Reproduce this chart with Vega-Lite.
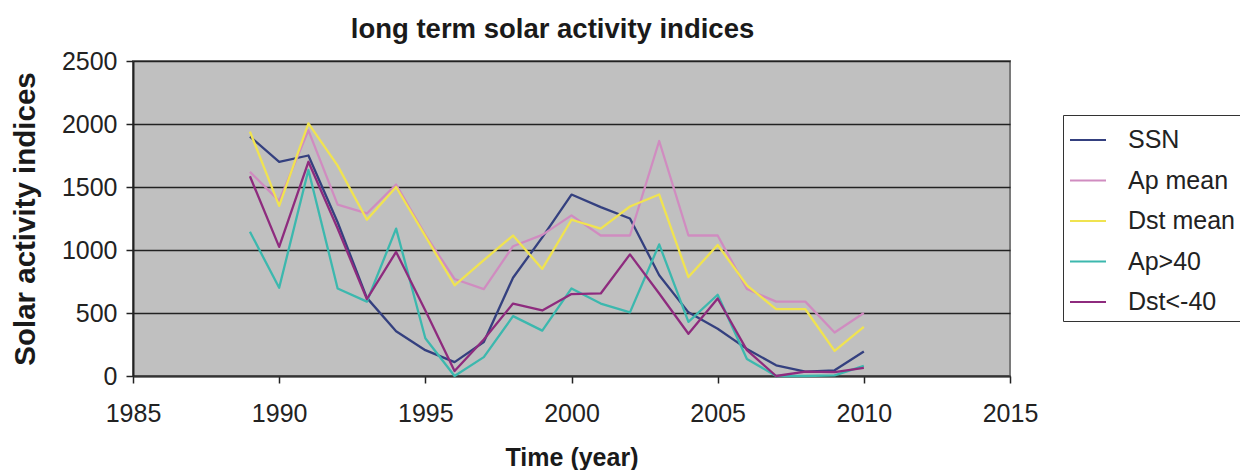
{
  "$schema": "https://vega.github.io/schema/vega-lite/v6.json",
  "width": 877,
  "height": 315,
  "autosize": {"type": "none"},
  "padding": {"left": 133, "top": 61, "right": 230, "bottom": 94},
  "background": "white",
  "title": {
    "text": "long term solar activity indices",
    "font": "Liberation Sans",
    "fontSize": 27.5,
    "fontWeight": "bold",
    "color": "#1a1a1a",
    "anchor": "middle",
    "dx": -19,
    "offset": 6
  },
  "config": {
    "view": {"fill": "#c0c0c0", "stroke": "#7a7a7a", "strokeWidth": 2},
    "font": "Liberation Sans"
  },
  "data": {
    "values": [
      {"year": 1989, "series": "SSN", "value": 1900},
      {"year": 1990, "series": "SSN", "value": 1700},
      {"year": 1991, "series": "SSN", "value": 1750},
      {"year": 1992, "series": "SSN", "value": 1220},
      {"year": 1993, "series": "SSN", "value": 620},
      {"year": 1994, "series": "SSN", "value": 355},
      {"year": 1995, "series": "SSN", "value": 205},
      {"year": 1996, "series": "SSN", "value": 110},
      {"year": 1997, "series": "SSN", "value": 270},
      {"year": 1998, "series": "SSN", "value": 780},
      {"year": 1999, "series": "SSN", "value": 1100},
      {"year": 2000, "series": "SSN", "value": 1440},
      {"year": 2001, "series": "SSN", "value": 1340},
      {"year": 2002, "series": "SSN", "value": 1250},
      {"year": 2003, "series": "SSN", "value": 800},
      {"year": 2004, "series": "SSN", "value": 505},
      {"year": 2005, "series": "SSN", "value": 375},
      {"year": 2006, "series": "SSN", "value": 215},
      {"year": 2007, "series": "SSN", "value": 85},
      {"year": 2008, "series": "SSN", "value": 35},
      {"year": 2009, "series": "SSN", "value": 45},
      {"year": 2010, "series": "SSN", "value": 195},

      {"year": 1989, "series": "Ap mean", "value": 1620},
      {"year": 1990, "series": "Ap mean", "value": 1390},
      {"year": 1991, "series": "Ap mean", "value": 1950},
      {"year": 1992, "series": "Ap mean", "value": 1360},
      {"year": 1993, "series": "Ap mean", "value": 1290},
      {"year": 1994, "series": "Ap mean", "value": 1520},
      {"year": 1995, "series": "Ap mean", "value": 1120},
      {"year": 1996, "series": "Ap mean", "value": 770},
      {"year": 1997, "series": "Ap mean", "value": 690},
      {"year": 1998, "series": "Ap mean", "value": 1030},
      {"year": 1999, "series": "Ap mean", "value": 1120},
      {"year": 2000, "series": "Ap mean", "value": 1275},
      {"year": 2001, "series": "Ap mean", "value": 1115},
      {"year": 2002, "series": "Ap mean", "value": 1115},
      {"year": 2003, "series": "Ap mean", "value": 1865},
      {"year": 2004, "series": "Ap mean", "value": 1115},
      {"year": 2005, "series": "Ap mean", "value": 1115},
      {"year": 2006, "series": "Ap mean", "value": 690},
      {"year": 2007, "series": "Ap mean", "value": 590},
      {"year": 2008, "series": "Ap mean", "value": 590},
      {"year": 2009, "series": "Ap mean", "value": 345},
      {"year": 2010, "series": "Ap mean", "value": 500},

      {"year": 1989, "series": "Dst mean", "value": 1940},
      {"year": 1990, "series": "Dst mean", "value": 1350},
      {"year": 1991, "series": "Dst mean", "value": 2005},
      {"year": 1992, "series": "Dst mean", "value": 1670},
      {"year": 1993, "series": "Dst mean", "value": 1240},
      {"year": 1994, "series": "Dst mean", "value": 1500},
      {"year": 1995, "series": "Dst mean", "value": 1110},
      {"year": 1996, "series": "Dst mean", "value": 720},
      {"year": 1997, "series": "Dst mean", "value": 920},
      {"year": 1998, "series": "Dst mean", "value": 1115},
      {"year": 1999, "series": "Dst mean", "value": 850},
      {"year": 2000, "series": "Dst mean", "value": 1240},
      {"year": 2001, "series": "Dst mean", "value": 1170},
      {"year": 2002, "series": "Dst mean", "value": 1345},
      {"year": 2003, "series": "Dst mean", "value": 1440},
      {"year": 2004, "series": "Dst mean", "value": 785},
      {"year": 2005, "series": "Dst mean", "value": 1040},
      {"year": 2006, "series": "Dst mean", "value": 720},
      {"year": 2007, "series": "Dst mean", "value": 530},
      {"year": 2008, "series": "Dst mean", "value": 530},
      {"year": 2009, "series": "Dst mean", "value": 200},
      {"year": 2010, "series": "Dst mean", "value": 390},

      {"year": 1989, "series": "Ap>40", "value": 1145},
      {"year": 1990, "series": "Ap>40", "value": 700},
      {"year": 1991, "series": "Ap>40", "value": 1635},
      {"year": 1992, "series": "Ap>40", "value": 695},
      {"year": 1993, "series": "Ap>40", "value": 590},
      {"year": 1994, "series": "Ap>40", "value": 1170},
      {"year": 1995, "series": "Ap>40", "value": 300},
      {"year": 1996, "series": "Ap>40", "value": 0},
      {"year": 1997, "series": "Ap>40", "value": 150},
      {"year": 1998, "series": "Ap>40", "value": 475},
      {"year": 1999, "series": "Ap>40", "value": 360},
      {"year": 2000, "series": "Ap>40", "value": 695},
      {"year": 2001, "series": "Ap>40", "value": 575},
      {"year": 2002, "series": "Ap>40", "value": 505},
      {"year": 2003, "series": "Ap>40", "value": 1045},
      {"year": 2004, "series": "Ap>40", "value": 430},
      {"year": 2005, "series": "Ap>40", "value": 645},
      {"year": 2006, "series": "Ap>40", "value": 135},
      {"year": 2007, "series": "Ap>40", "value": 0},
      {"year": 2008, "series": "Ap>40", "value": 0},
      {"year": 2009, "series": "Ap>40", "value": 5},
      {"year": 2010, "series": "Ap>40", "value": 80},

      {"year": 1989, "series": "Dst<-40", "value": 1585},
      {"year": 1990, "series": "Dst<-40", "value": 1025},
      {"year": 1991, "series": "Dst<-40", "value": 1700},
      {"year": 1992, "series": "Dst<-40", "value": 1170},
      {"year": 1993, "series": "Dst<-40", "value": 610},
      {"year": 1994, "series": "Dst<-40", "value": 985},
      {"year": 1995, "series": "Dst<-40", "value": 520},
      {"year": 1996, "series": "Dst<-40", "value": 40},
      {"year": 1997, "series": "Dst<-40", "value": 290},
      {"year": 1998, "series": "Dst<-40", "value": 575},
      {"year": 1999, "series": "Dst<-40", "value": 520},
      {"year": 2000, "series": "Dst<-40", "value": 650},
      {"year": 2001, "series": "Dst<-40", "value": 655},
      {"year": 2002, "series": "Dst<-40", "value": 965},
      {"year": 2003, "series": "Dst<-40", "value": 655},
      {"year": 2004, "series": "Dst<-40", "value": 335},
      {"year": 2005, "series": "Dst<-40", "value": 615},
      {"year": 2006, "series": "Dst<-40", "value": 205},
      {"year": 2007, "series": "Dst<-40", "value": 0},
      {"year": 2008, "series": "Dst<-40", "value": 35},
      {"year": 2009, "series": "Dst<-40", "value": 30},
      {"year": 2010, "series": "Dst<-40", "value": 65}
    ]
  },
  "mark": {"type": "line", "strokeJoin": "round", "strokeWidth": 2.3},
  "encoding": {
    "x": {
      "field": "year",
      "type": "quantitative",
      "scale": {"domain": [1985, 2015], "nice": false, "zero": false},
      "axis": {
        "title": "Time (year)",
        "values": [1985, 1990, 1995, 2000, 2005, 2010, 2015],
        "format": "d",
        "grid": false,
        "labelFontSize": 25,
        "labelColor": "#222222",
        "labelPadding": 18,
        "labelFlush": false,
        "tickSize": 7,
        "tickColor": "#222222",
        "tickWidth": 1.5,
        "domainColor": "#333333",
        "domainWidth": 2,
        "titleFontSize": 25,
        "titleFontWeight": "bold",
        "titleColor": "#1a1a1a",
        "titleBaseline": "alphabetic",
        "titleY": 89
      }
    },
    "y": {
      "field": "value",
      "type": "quantitative",
      "scale": {"domain": [0, 2500], "nice": false},
      "axis": {
        "title": "Solar activity indices",
        "values": [0, 500, 1000, 1500, 2000, 2500],
        "format": "d",
        "grid": true,
        "gridColor": "#222222",
        "gridWidth": 1.5,
        "labelFontSize": 25,
        "labelColor": "#222222",
        "labelPadding": 9,
        "tickSize": 7,
        "tickColor": "#222222",
        "tickWidth": 1.5,
        "domainColor": "#222222",
        "domainWidth": 2,
        "titleFontSize": 29.5,
        "titleFontWeight": "bold",
        "titleColor": "#1a1a1a",
        "titleAngle": 270,
        "titleAlign": "center",
        "titleBaseline": "middle",
        "titleX": -108,
        "titleY": 157.5
      }
    },
    "color": {
      "field": "series",
      "type": "nominal",
      "sort": ["SSN", "Ap mean", "Dst mean", "Ap>40", "Dst<-40"],
      "scale": {
        "domain": ["SSN", "Ap mean", "Dst mean", "Ap>40", "Dst<-40"],
        "range": ["#34407f", "#d08cc0", "#f0e350", "#3cb8ae", "#8e2b7e"]
      },
      "legend": {
        "title": null,
        "orient": "none",
        "legendX": 930,
        "legendY": 54,
        "direction": "vertical",
        "strokeColor": "#333333",
        "fillColor": "white",
        "padding": 6,
        "symbolType": "stroke",
        "symbolSize": 1296,
        "symbolStrokeWidth": 2,
        "labelFontSize": 25,
        "labelColor": "#222222",
        "labelOffset": 21,
        "rowPadding": 8.5
      }
    }
  }
}
